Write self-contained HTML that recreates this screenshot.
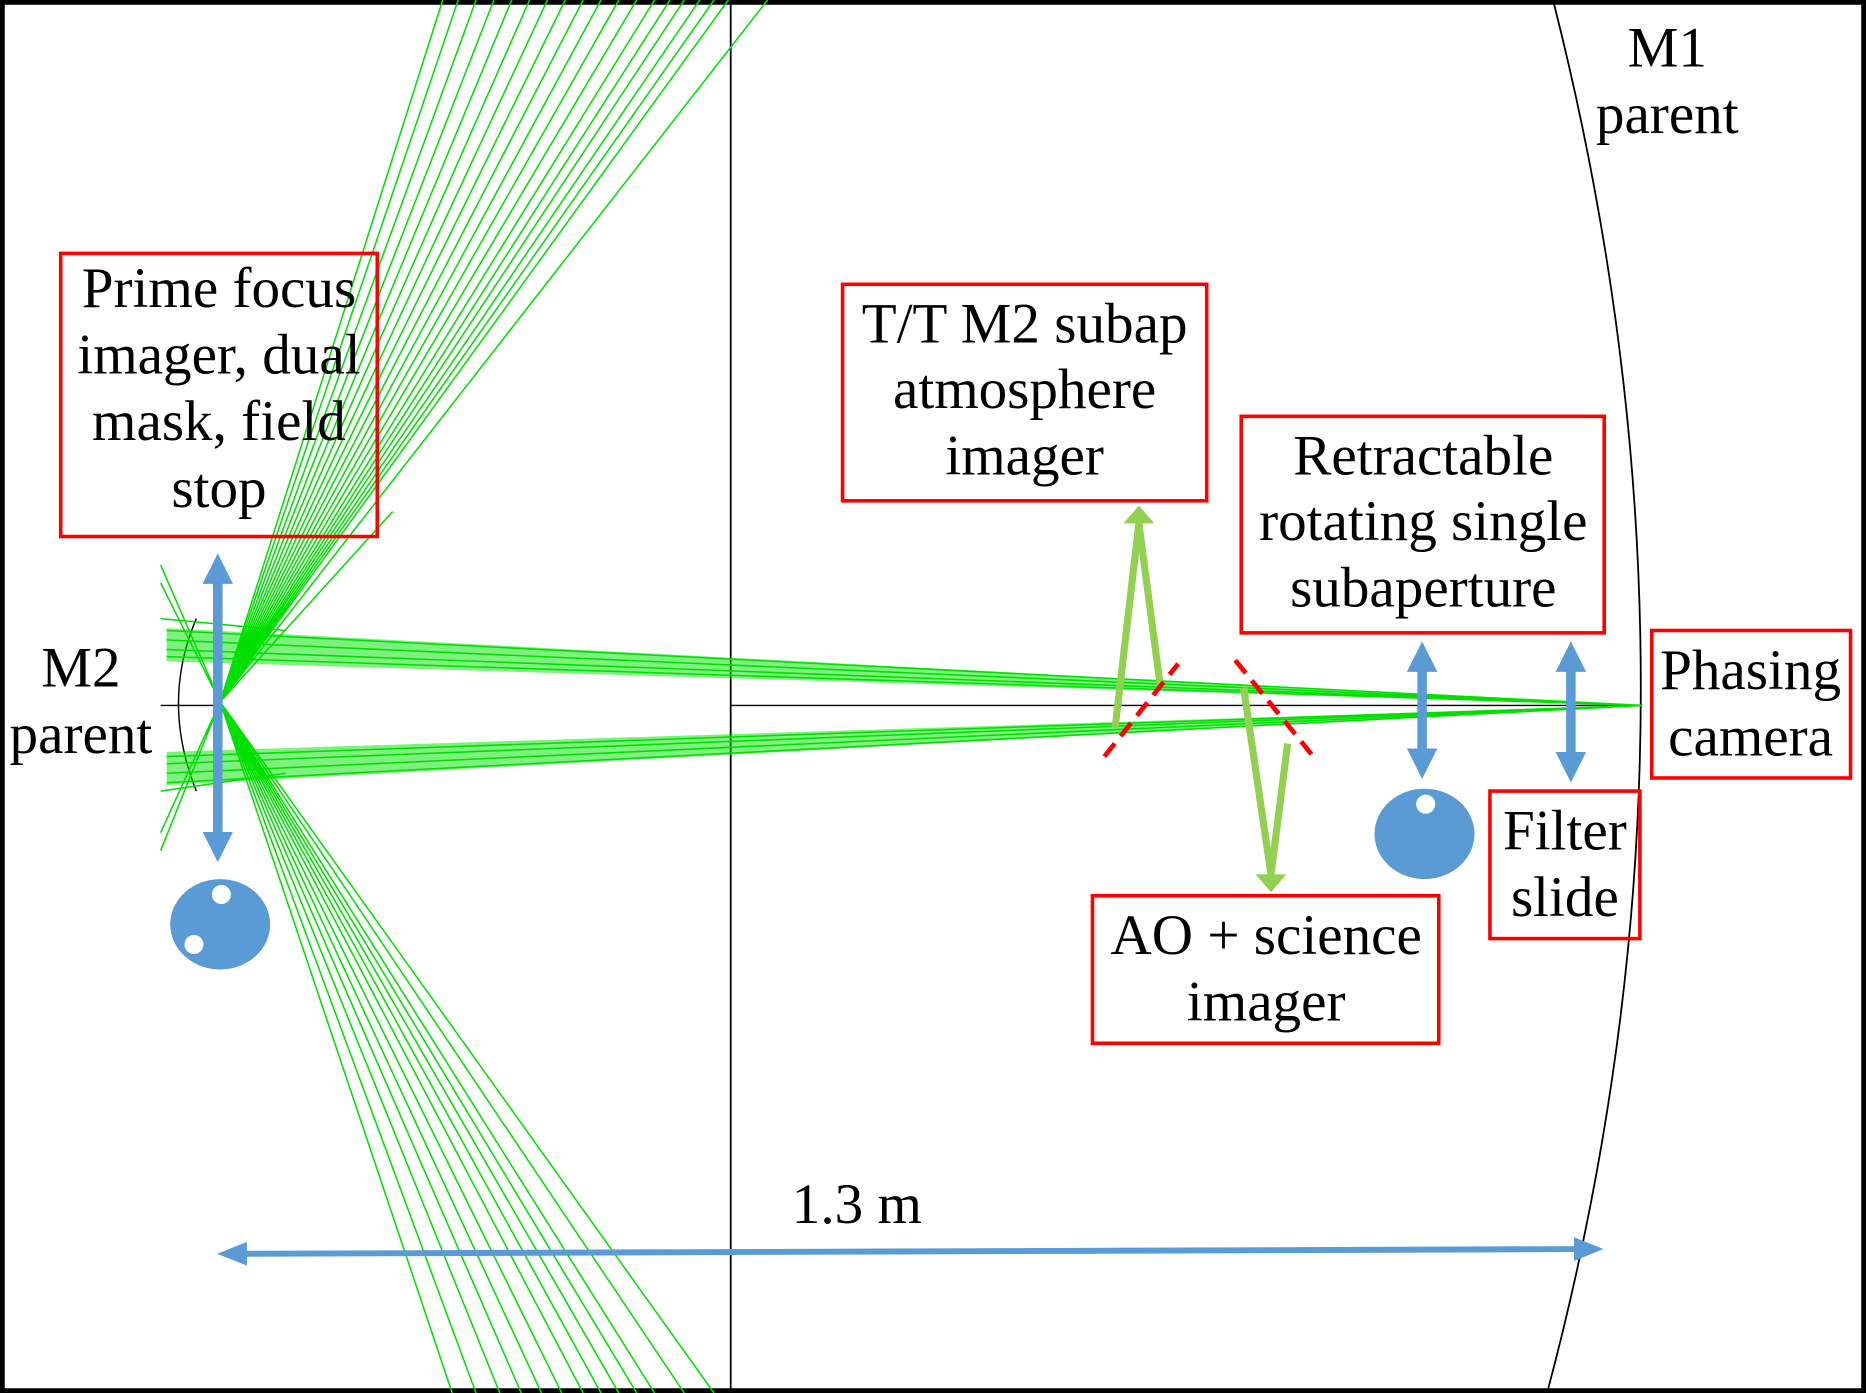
<!DOCTYPE html>
<html><head><meta charset="utf-8"><style>
html,body{margin:0;padding:0;background:#fff}
svg{display:block}
text{font-family:"Liberation Serif",serif;font-size:48px;fill:#000}
</style></head><body>
<svg width="1866" height="1393" viewBox="0 0 1568 1171" preserveAspectRatio="none" xmlns="http://www.w3.org/2000/svg">
<defs>
<marker id="bh" viewBox="0 0 10 10" refX="5" refY="5" markerWidth="3.2" markerHeight="3.2" orient="auto-start-reverse"><path d="M0,0L10,5L0,10z" fill="#5b9bd5"/></marker>
<marker id="bh2" viewBox="0 0 10 10" refX="5" refY="5" markerWidth="5" markerHeight="5" orient="auto-start-reverse"><path d="M0,1L10,5L0,9z" fill="#5b9bd5"/></marker>
</defs>
<rect x="2" y="2" width="1564" height="1167" fill="#fff" stroke="#000" stroke-width="4"/>
<line x1="614" y1="0" x2="614" y2="1171" stroke="#000" stroke-width="1.5"/>
<path d="M1305,0 Q1455,590 1300,1171" fill="none" stroke="#000" stroke-width="1.5"/>
<line x1="614" y1="593" x2="1380" y2="593" stroke="#000" stroke-width="1.2"/>
<path d="M165,520 Q135,590 165,665" fill="none" stroke="#000" stroke-width="1.2"/>
<line x1="135" y1="593" x2="185" y2="593" stroke="#000" stroke-width="1.2"/>
<g stroke="#00e000" stroke-width="1.3" fill="none">
<path d="M140,530 L1380,593 M140,538 L1380,593 M140,546 L1380,593 M140,552 L1380,593"/>
<path d="M140,636 L1380,593 M140,642 L1380,593 M140,650 L1380,593 M140,658 L1380,593"/>
<path d="M185,590 L372,0 M185,590 L385,0 M185,590 L400,0 M185,590 L415,0 M185,590 L430,0 M185,590 L445,0 M185,590 L460,0 M185,590 L475,0 M185,590 L490,0 M185,590 L505,0 M185,590 L520,0 M185,590 L535,0 M185,590 L550,0 M185,590 L563,0 M185,590 L575,0 M185,590 L588,0 M185,590 L600,0 M185,590 L612,0 M185,590 L645,0 M185,590 L330,430"/>
<path d="M185,590 L380,1171 M185,590 L400,1171 M185,590 L420,1171 M185,590 L438,1171 M185,590 L455,1171 M185,590 L472,1171 M185,590 L490,1171 M185,590 L505,1171 M185,590 L520,1171 M185,590 L535,1171 M185,590 L550,1171 M185,590 L575,1171 M185,590 L600,1171"/>
<path d="M135,475 L185,590 M135,490 L185,590 M135,715 L185,590 M135,700 L185,590 M135,520 L240,530 M135,665 L240,650"/>
</g>
<polygon points="140,528 1380,593 140,556" fill="#00e000" opacity="0.5"/>
<polygon points="140,632 1380,593 140,660" fill="#00e000" opacity="0.5"/>
<g stroke="#5b9bd5" stroke-width="8" fill="none">
<line x1="183" y1="478" x2="183" y2="712" marker-start="url(#bh)" marker-end="url(#bh)"/>
<line x1="1195" y1="552" x2="1195" y2="642" marker-start="url(#bh)" marker-end="url(#bh)"/>
<line x1="1320" y1="552" x2="1320" y2="645" marker-start="url(#bh)" marker-end="url(#bh)"/>
<line x1="195" y1="1054" x2="1335" y2="1050" stroke-width="5" marker-start="url(#bh2)" marker-end="url(#bh2)"/>
</g>
<ellipse cx="185" cy="777" rx="42" ry="38" fill="#5b9bd5"/>
<circle cx="186" cy="752" r="8" fill="#fff"/><circle cx="163" cy="794" r="8" fill="#fff"/>
<ellipse cx="1197" cy="701" rx="42" ry="38" fill="#5b9bd5"/>
<circle cx="1198" cy="676" r="8" fill="#fff"/>
<g stroke="#92d050" stroke-width="6" fill="none">
<path d="M937,612 L957,440 M975,577 L957,440" />
<path d="M1045,578 L1068,735 M1082,625 L1068,735"/>
</g>
<path d="M944,440 L957,425 L970,440z" fill="#92d050"/>
<path d="M1055,735 L1068,750 L1081,735z" fill="#92d050"/>
<g stroke="#ff0000" stroke-width="4" stroke-dasharray="14,8">
<line x1="928" y1="636" x2="990" y2="558"/>
<line x1="1038" y1="555" x2="1102" y2="634"/>
</g>
<g fill="#fff" fill-opacity="0" stroke="#ff0000" stroke-width="3">
<rect x="51" y="213" width="266" height="238"/>
<rect x="708" y="239" width="306" height="182"/>
<rect x="1043" y="350" width="305" height="182"/>
<rect x="1388" y="530" width="167" height="124"/>
<rect x="1252" y="665" width="126" height="124"/>
<rect x="918" y="753" width="291" height="124"/>
</g>
<g text-anchor="middle">
<text x="184" y="258">Prime focus</text>
<text x="184" y="314">imager, dual</text>
<text x="184" y="370">mask, field</text>
<text x="184" y="426">stop</text>
<text x="861" y="288">T/T M2 subap</text>
<text x="861" y="343">atmosphere</text>
<text x="861" y="399">imager</text>
<text x="1196" y="399">Retractable</text>
<text x="1196" y="454">rotating single</text>
<text x="1196" y="510">subaperture</text>
<text x="1471" y="579">Phasing</text>
<text x="1471" y="635">camera</text>
<text x="1315" y="714">Filter</text>
<text x="1315" y="770">slide</text>
<text x="1064" y="802">AO + science</text>
<text x="1064" y="858">imager</text>
<text x="1401" y="56">M1</text>
<text x="1401" y="112">parent</text>
<text x="68" y="577">M2</text>
<text x="68" y="633">parent</text>
<text x="720" y="1028">1.3 m</text>
</g>
</svg>
</body></html>
